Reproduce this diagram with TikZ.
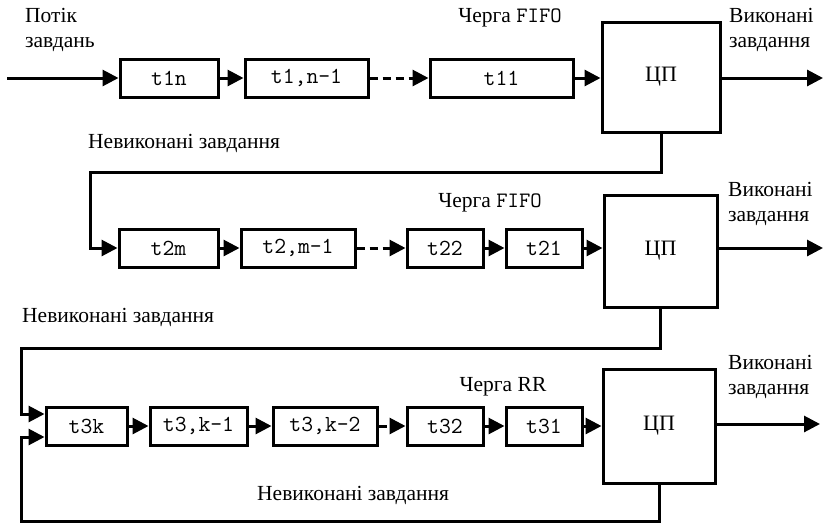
\documentclass[tikz,border=0pt]{standalone}
\usepackage{fontspec}
\setmainfont{Liberation Serif}
\usetikzlibrary{arrows.meta}
\begin{document}
\begin{tikzpicture}[x=1pt,y=-1pt,
  qbox/.style={draw, line width=3pt, minimum height=38pt, inner sep=0pt,
    font=\ttfamily\fontsize{23}{23}\selectfont},
  cpubox/.style={draw, line width=3pt, inner sep=0pt,
    font=\fontsize{22}{22}\selectfont},
  arr/.style={line width=3pt, -{Triangle[length=16pt,width=16pt]}},
  darr/.style={arr, dash pattern=on 8pt off 5pt},
  lbl/.style={font=\fontsize{21.5}{25}\selectfont, inner sep=0pt, align=left}]
\useasboundingbox (0,0) rectangle (825,523);

% ---------- Row 1 ----------
\node[qbox, minimum width=98pt]  (t1n)  at (169,78)   {t1n};
\node[qbox, minimum width=123pt] (t1n1) at (306.5,78) {t1,n-1};
\node[qbox, minimum width=143pt] (t11)  at (501.5,78) {t11};
\node[cpubox, minimum width=118pt, minimum height=110pt] (cpu1) at (661,77) {ЦП};
\coordinate (in1) at (7,78);
\coordinate (out1) at (823,78);
\draw[arr] (in1) -- (t1n.west);
\draw[arr] (t1n.east) -- (t1n1.west);
\draw[darr] (t1n1.east) -- (t11.west);
\draw[arr] (t11.east) -- (t11.east -| cpu1.west);
\draw[arr] (cpu1.east |- out1) -- (out1);

\node[lbl, anchor=west] (src) at (25,29.5) {Потік\\завдань};
\node[lbl] (q1) at (510,18) {Черга {\ttfamily\fontsize{22}{22}\selectfont FIFO}};
\node[lbl, anchor=west] (done1) at (729,29.5) {Виконані\\завдання};
\node[lbl, anchor=west] (nd1) at (88,143) {Невиконані завдання};

% ---------- Row 2 ----------
\node[qbox, minimum width=99pt]  (t2m)  at (168.5,248) {t2m};
\node[qbox, minimum width=114pt] (t2m1) at (298,248)   {t2,m-1};
\node[qbox, minimum width=76pt]  (t22)  at (445,248)   {t22};
\node[qbox, minimum width=76pt]  (t21)  at (544,248)   {t21};
\node[cpubox, minimum width=113pt, minimum height=112pt] (cpu2) at (660.5,251) {ЦП};
\coordinate (out2) at (823,248);
\coordinate (f1) at (90,172);
\draw[arr] (cpu1.south) |- (f1) |- (t2m.west);
\draw[arr] (t2m.east) -- (t2m1.west);
\draw[darr] (t2m1.east) -- (t22.west);
\draw[arr] (t22.east) -- (t21.west);
\draw[arr] (t21.east) -- (t21.east -| cpu2.west);
\draw[arr] (cpu2.east |- out2) -- (out2);

\node[lbl] (q2) at (490,203) {Черга {\ttfamily\fontsize{22}{22}\selectfont FIFO}};
\node[lbl, anchor=west] (done2) at (728,203.5) {Виконані\\завдання};
\node[lbl, anchor=west] (nd2) at (22,317) {Невиконані завдання};

% ---------- Row 3 ----------
\node[qbox, minimum width=81pt]  (t3k)  at (86.5,426) {t3k};
\node[qbox, minimum width=97pt]  (t3k1) at (198.5,426) {t3,k-1};
\node[qbox, minimum width=104pt] (t3k2) at (325,426)   {t3,k-2};
\node[qbox, minimum width=76pt]  (t32)  at (445,426)   {t32};
\node[qbox, minimum width=76pt]  (t31)  at (544,426)   {t31};
\node[cpubox, minimum width=112pt, minimum height=114pt] (cpu3) at (659,426) {ЦП};
\coordinate (out3) at (820,424);
\coordinate (f2) at (21,348);
\coordinate (f3) at (21,521);
\draw[arr] (cpu2.south) |- (f2) |- ([yshift=12pt]t3k.west);
\draw[arr] (cpu3.south) |- (f3) |- ([yshift=-11pt]t3k.west);
\draw[arr] (t3k.east) -- (t3k1.west);
\draw[arr] (t3k1.east) -- (t3k2.west);
\draw[darr] (t3k2.east) -- (t32.west);
\draw[arr] (t32.east) -- (t31.west);
\draw[arr] (t31.east) -- (t31.east -| cpu3.west);
\draw[arr] (cpu3.east |- out3) -- (out3);

\node[lbl] (q3) at (503,387) {Черга RR};
\node[lbl, anchor=west] (done3) at (728,377) {Виконані\\завдання};
\node[lbl, anchor=west] (nd3) at (257,495) {Невиконані завдання};
\end{tikzpicture}
\end{document}
